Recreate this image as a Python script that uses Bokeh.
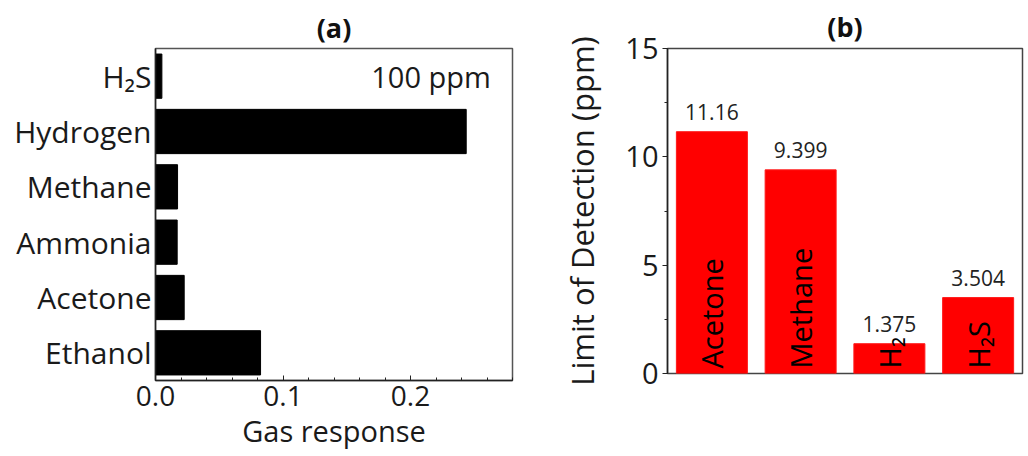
from bokeh.plotting import figure
from bokeh.models import (Range1d, FactorRange, SingleIntervalTicker, NumeralTickFormatter,
                          Label, ColumnDataSource)
from bokeh.layouts import row
from bokeh.embed import file_html
from bokeh.resources import INLINE
from bokeh.core.properties import value
import math

# ---------------- data ----------------
gases_a = ["Ethanol", "Acetone", "Ammonia", "Methane", "Hydrogen", "H\u2082S"]
response_a = [0.0824, 0.0225, 0.0170, 0.0173, 0.2437, 0.005]

gases_b = ["Acetone", "Methane", "H\u2082", "H\u2082S"]
lod_b = [11.16, 9.399, 1.375, 3.504]
lod_labels = ["11.16", "9.399", "1.375", "3.504"]

FONT = "Open Sans"
TXT = "#1a1a1a"

# ---------------- panel (a) ----------------
pa = figure(frame_width=357, frame_height=332, output_backend="svg", toolbar_location=None,
            x_range=Range1d(0, 0.28), y_range=FactorRange(factors=gases_a),
            min_border_left=155, min_border_right=8, min_border_top=45, min_border_bottom=70)
pa.title.text = "(a)"
pa.title.align = "center"
pa.title.text_font = FONT
pa.title.text_font_size = "27px"
pa.title.text_font_style = "bold"
pa.title.text_color = "#111111"
pa.title.standoff = 5

src_a = ColumnDataSource(dict(gas=gases_a, resp=response_a))
pa.hbar(y="gas", left=0, right="resp", height=0.8, source=src_a,
        fill_color="black", line_color="black")

pa.xgrid.visible = False
pa.ygrid.visible = False
pa.outline_line_color = "#555555"
pa.outline_line_width = 1.5

xa = pa.xaxis[0]
xa.ticker = SingleIntervalTicker(interval=0.1, num_minor_ticks=5)
xa.formatter = NumeralTickFormatter(format="0.0")
xa.major_tick_in = 5
xa.major_tick_out = 0
xa.minor_tick_in = 3
xa.minor_tick_out = 0
xa.axis_line_color = "#222222"
xa.axis_line_width = 1.5
xa.major_tick_line_color = "#222222"
xa.minor_tick_line_color = "#222222"
xa.major_label_text_font = FONT
xa.major_label_text_font_size = "28px"
xa.major_label_text_color = TXT
xa.major_label_standoff = 5
xa.axis_label = "Gas response"
xa.axis_label_text_font = FONT
xa.axis_label_text_font_size = "29px"
xa.axis_label_text_font_style = "normal"
xa.axis_label_text_color = TXT
xa.axis_label_standoff = 2

ya = pa.yaxis[0]
ya.major_tick_in = 0
ya.major_tick_out = 0
ya.axis_line_color = "#222222"
ya.axis_line_width = 1.5
ya.major_label_text_font = FONT
ya.major_label_text_font_size = "30px"
ya.major_label_text_color = TXT
ya.major_label_standoff = 4

pa.add_layout(Label(x=0.263, y=5.5, text="100 ppm", text_align="right",
                    text_baseline="middle", text_font=FONT, text_font_size="29px",
                    text_color=TXT))

# ---------------- panel (b) ----------------
pb = figure(frame_width=355, frame_height=325, output_backend="svg", toolbar_location=None,
            x_range=FactorRange(factors=gases_b), y_range=Range1d(0, 15),
            min_border_left=147, min_border_right=4, min_border_top=48, min_border_bottom=70)
pb.title.text = "(b)"
pb.title.align = "center"
pb.title.text_font = FONT
pb.title.text_font_size = "27px"
pb.title.text_font_style = "bold"
pb.title.text_color = "#111111"
pb.title.standoff = 8

src_b = ColumnDataSource(dict(gas=gases_b, lod=lod_b, lab=lod_labels))
pb.vbar(x="gas", top="lod", width=0.8, source=src_b,
        fill_color="#ff0000", line_color="#ff1a1a")
pb.text(x="gas", y="lod", text="lab", source=src_b, text_align="center",
        text_baseline="middle", y_offset=-20, text_font=value(FONT),
        text_font_size="21px", text_color="#222222")
pb.text(x="gas", y=0, text="gas", source=src_b, angle=math.pi / 2,
        text_align="left", text_baseline="middle", y_offset=-5,
        text_font=value(FONT), text_font_size="29px", text_color="black")

pb.xgrid.visible = False
pb.ygrid.visible = False
pb.outline_line_color = "#444444"
pb.outline_line_width = 1.5
pb.xaxis.visible = False

yb = pb.yaxis[0]
yb.ticker = SingleIntervalTicker(interval=5, num_minor_ticks=2)
yb.major_tick_in = 0
yb.major_tick_out = 5
yb.minor_tick_in = 0
yb.minor_tick_out = 3
yb.axis_line_color = "#222222"
yb.axis_line_width = 1.5
yb.major_tick_line_color = "#222222"
yb.minor_tick_line_color = "#222222"
yb.major_label_text_font = FONT
yb.major_label_text_font_size = "29px"
yb.major_label_text_color = TXT
yb.major_label_standoff = 4
yb.axis_label = "Limit of Detection (ppm)"
yb.axis_label_text_font = FONT
yb.axis_label_text_font_size = "31px"
yb.axis_label_text_font_style = "normal"
yb.axis_label_text_color = TXT
yb.axis_label_standoff = 19

layout = row(pa, pb)
open("out.html", "w").write(file_html(layout, INLINE))
